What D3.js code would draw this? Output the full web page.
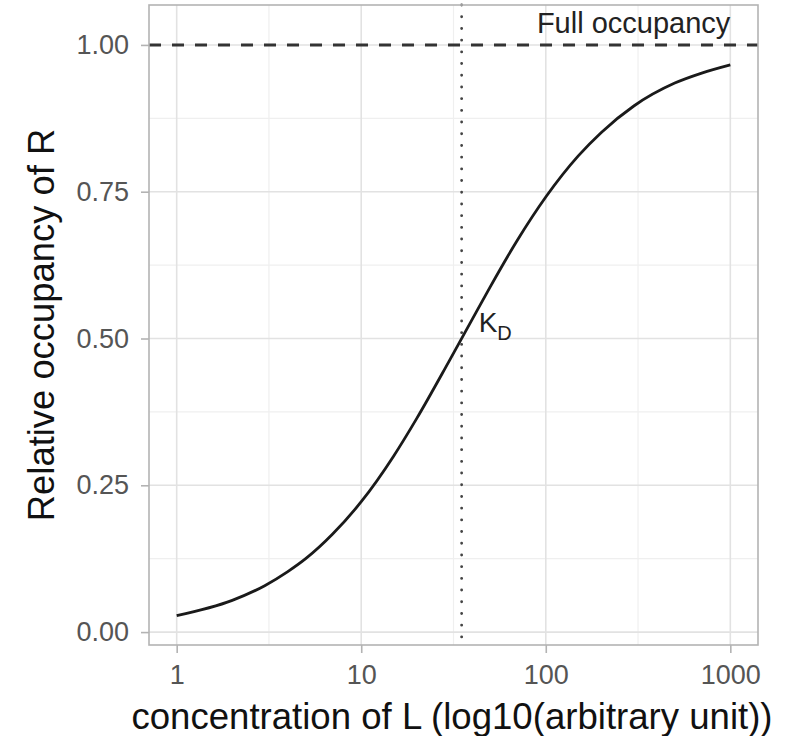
<!DOCTYPE html>
<html>
<head>
<meta charset="utf-8">
<script src="https://cdn.jsdelivr.net/npm/d3@7"></script>
<style>
  html, body { margin: 0; padding: 0; background: #fff; }
  svg text { font-family: "Liberation Sans", Arial, Helvetica, sans-serif; }
</style>
</head>
<body>
<svg id="chart" width="800" height="736"></svg>
<script>
// ---- data ----
const concentration = [1, 2, 3, 4, 5, 7, 10, 15, 20, 30, 40, 50, 70, 100, 150, 200, 300, 500, 700, 1000];
const occupancy     = [0.028, 0.054, 0.079, 0.103, 0.125, 0.167, 0.222, 0.300, 0.364, 0.462, 0.533, 0.588, 0.667, 0.741, 0.811, 0.851, 0.896, 0.935, 0.952, 0.966];
const kdValue = 35;
const fullOccupancy = 1.0;
const xTicks = [1, 10, 100, 1000];
const xTickLabels = ["1", "10", "100", "1000"];
const xMinor = [Math.sqrt(10), Math.sqrt(1000), Math.sqrt(100000)];
const yTicks = [0, 0.25, 0.5, 0.75, 1.0];
const yTickLabels = ["0.00", "0.25", "0.50", "0.75", "1.00"];
const yMinor = [0.125, 0.375, 0.625, 0.875];

const svg = d3.select("#chart");
const panel = { left: 149, right: 758, top: 5, bottom: 645 };

const x = d3.scaleLog().domain([Math.pow(10, -0.15), Math.pow(10, 3.15)]).range([panel.left, panel.right]);
const y = d3.scaleLinear().domain([-0.022, 1.068]).range([panel.bottom, panel.top]);

// minor grid
svg.append("g").selectAll("line").data(xMinor).join("line")
  .attr("x1", d => x(d)).attr("x2", d => x(d))
  .attr("y1", panel.top).attr("y2", panel.bottom)
  .attr("stroke", "#efefef").attr("stroke-width", 1.2);
svg.append("g").selectAll("line").data(yMinor).join("line")
  .attr("y1", d => y(d)).attr("y2", d => y(d))
  .attr("x1", panel.left).attr("x2", panel.right)
  .attr("stroke", "#efefef").attr("stroke-width", 1.2);
// major grid
svg.append("g").selectAll("line").data(xTicks).join("line")
  .attr("x1", d => x(d)).attr("x2", d => x(d))
  .attr("y1", panel.top).attr("y2", panel.bottom)
  .attr("stroke", "#e2e2e2").attr("stroke-width", 1.6);
svg.append("g").selectAll("line").data(yTicks).join("line")
  .attr("y1", d => y(d)).attr("y2", d => y(d))
  .attr("x1", panel.left).attr("x2", panel.right)
  .attr("stroke", "#e2e2e2").attr("stroke-width", 1.6);

// axes
const xAxis = d3.axisBottom(x).tickValues(xTicks).tickFormat((d, i) => xTickLabels[i]).tickSize(8).tickPadding(12);
const gx = svg.append("g").attr("transform", `translate(0,${panel.bottom})`).call(xAxis);
gx.select(".domain").remove();
gx.selectAll(".tick line").attr("stroke", "#b3b3b3").attr("stroke-width", 1.6);
gx.selectAll(".tick text").attr("fill", "#555").attr("font-size", 27).attr("font-family", "Liberation Sans, Arial, sans-serif");

const yAxis = d3.axisLeft(y).tickValues(yTicks).tickFormat((d, i) => yTickLabels[i]).tickSize(8).tickPadding(12);
const gy = svg.append("g").attr("transform", `translate(${panel.left},0)`).call(yAxis);
gy.select(".domain").remove();
gy.selectAll(".tick line").attr("stroke", "#b3b3b3").attr("stroke-width", 1.6);
gy.selectAll(".tick text").attr("fill", "#555").attr("font-size", 27).attr("font-family", "Liberation Sans, Arial, sans-serif");

// full occupancy dashed line
svg.append("line")
  .attr("x1", panel.left).attr("x2", panel.right)
  .attr("y1", y(fullOccupancy)).attr("y2", y(fullOccupancy))
  .attr("stroke", "#333").attr("stroke-width", 3).attr("stroke-dasharray", "12 11");

// KD dotted line
svg.append("line")
  .attr("x1", x(kdValue)).attr("x2", x(kdValue))
  .attr("y1", panel.top).attr("y2", panel.bottom)
  .attr("stroke", "#444").attr("stroke-width", 2.8)
  .attr("stroke-linecap", "round").attr("stroke-dasharray", "0.1 11.6");

// curve
const pts = concentration.map((c, i) => [c, occupancy[i]]);
svg.append("path").datum(pts)
  .attr("fill", "none").attr("stroke", "#1a1a1a").attr("stroke-width", 2.8)
  .attr("d", d3.line().x(d => x(d[0])).y(d => y(d[1])).curve(d3.curveMonotoneX));

// panel border
svg.append("rect")
  .attr("x", panel.left).attr("y", panel.top)
  .attr("width", panel.right - panel.left).attr("height", panel.bottom - panel.top)
  .attr("fill", "none").attr("stroke", "#b3b3b3").attr("stroke-width", 1.6);

// annotations
svg.append("text").attr("x", x(1000)).attr("y", 33)
  .attr("text-anchor", "end").attr("font-size", 29).attr("fill", "#222")
  .text("Full occupancy");

const kd = svg.append("text").attr("x", x(kdValue) + 17).attr("y", y(0.5) - 7)
  .attr("font-size", 28).attr("fill", "#222");
kd.append("tspan").text("K");
kd.append("tspan").attr("dy", 8).attr("font-size", 20).text("D");

// axis titles
svg.append("text")
  .attr("x", 452).attr("y", 729)
  .attr("text-anchor", "middle").attr("font-size", 36.6).attr("fill", "#111")
  .text("concentration of L (log10(arbitrary unit))");

svg.append("text")
  .attr("transform", `translate(54,${(panel.top + panel.bottom) / 2}) rotate(-90)`)
  .attr("text-anchor", "middle").attr("font-size", 36.4).attr("fill", "#111")
  .text("Relative occupancy of R");
</script>
</body>
</html>
